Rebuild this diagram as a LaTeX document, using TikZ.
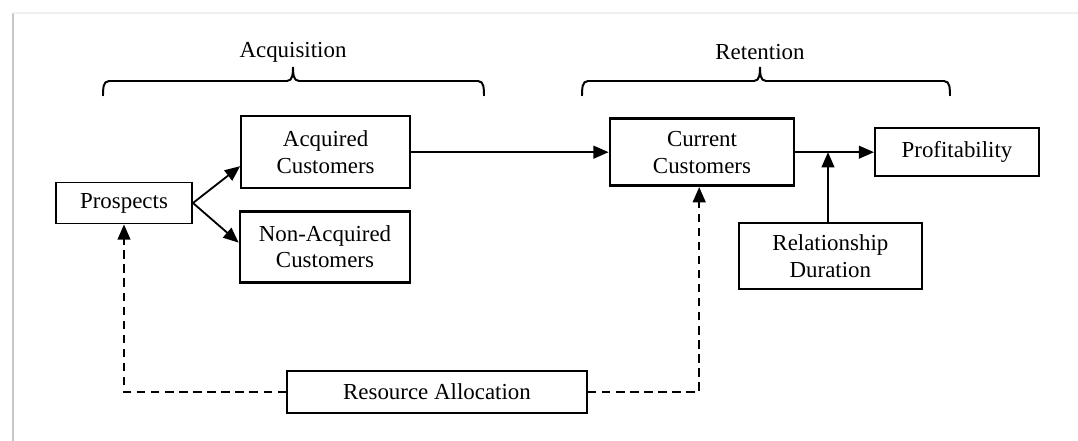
\documentclass[tikz,border=0pt]{standalone}
\usepackage{fontspec}
\setmainfont{Liberation Serif}
\usetikzlibrary{arrows.meta}

\begin{document}
\begin{tikzpicture}[
    font=\fontsize{16.3}{19}\selectfont,
    box/.style={draw, line width=1.4pt, align=center},
    heavybox/.style={box, line width=2pt},
    conn/.style={line width=1.3pt, -{Triangle[length=0.38cm, width=0.32cm]}},
    dashconn/.style={conn, dash pattern=on 6pt off 4pt}
]
    % Frame
    \useasboundingbox (0,0) rectangle (26.95,11.025);
    \draw[gray!45, line width=1.5pt] (0.325,0) -- (0.325,10.7);
    \draw[gray!12, line width=1pt] (0.325,10.7) -- (26.95,10.7);

    % Braces
    \foreach \l/\m/\r/\t in {2.575/7.325/12.1/Acquisition, 14.55/19.0/23.75/Retention} {
        \draw[line width=1.4pt] (\l,8.625) to[out=90,in=180] (\l+0.15,9.0) -- (\m-0.15,9.0) to[out=0,in=-90] (\m,9.35);
        \draw[line width=1.4pt] (\r,8.625) to[out=90,in=0] (\r-0.15,9.0) -- (\m+0.15,9.0) to[out=180,in=-90] (\m,9.35);
        \node (\t) at (\m,9.72) {\t};
    }

    % Nodes
    \node[box, minimum width=3.4cm, minimum height=1.025cm] (pro) at (3.1,5.95) {Prospects};
    \node[box, minimum width=4.225cm, minimum height=1.8cm] (acq) at (8.14,7.22) {Acquired\\Customers};
    \node[heavybox, minimum width=4.25cm, minimum height=1.775cm] (non) at (8.125,4.86) {Non-Acquired\\Customers};
    \node[heavybox, minimum width=4.6cm, minimum height=1.675cm] (cur) at (17.55,7.22) {Current\\Customers};
    \node[box, minimum width=4.1cm, minimum height=1.2cm] (prof) at (23.925,7.22) {Profitability};
    \node[heavybox, minimum width=4.575cm, minimum height=1.65cm] (rel) at (20.76,4.625) {Relationship\\Duration};
    \node[box, minimum width=7.5cm, minimum height=1.05cm] (res) at (10.925,1.225) {Resource Allocation};

    % Arrows
    \draw[conn] (pro.east) -- ([yshift=-0.35cm]acq.west);
    \draw[conn] (pro.east) -- ([yshift=0.1cm]non.west);
    \draw[conn] (acq) -- (cur);
    \draw[conn] (cur) -- (prof);
    \draw[conn] ([xshift=-0.06cm]rel.north) -- ([xshift=-0.06cm]rel.north |- cur.east);
    \draw[dashconn] (res.west) -| (pro.south);
    \draw[dashconn] (res.east) -| ([xshift=-0.07cm]cur.south);
\end{tikzpicture}
\end{document}
